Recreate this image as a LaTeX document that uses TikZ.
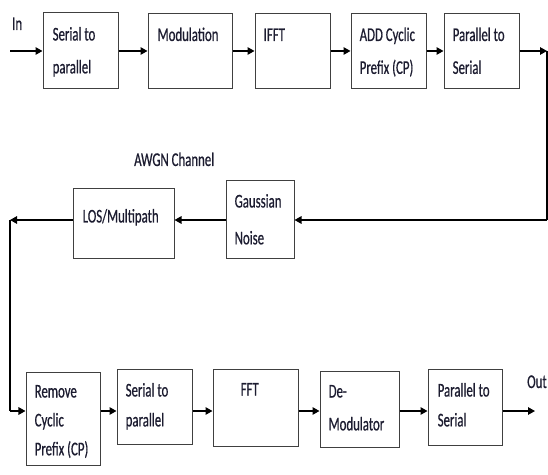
\documentclass[tikz,border=0pt]{standalone}
\usepackage{fontspec}
\setmainfont{Carlito}[FakeStretch=0.66,FakeBold=0.6]
\usetikzlibrary{arrows.meta,calc}
\definecolor{boxgray}{HTML}{404040}
\definecolor{txtcol}{HTML}{1C1C30}
\newcommand{\bxt}[2][33]{\parbox[t]{90bp}{\fontsize{19.5}{#1}\selectfont\raggedright #2}}
\begin{document}
\begin{tikzpicture}[x=1bp,y=-1bp,
  blk/.style={draw=boxgray, line width=1bp, inner sep=0pt, fill=white},
  txt/.style={anchor=base west, inner sep=0pt, text=txtcol, font=\fontsize{19.5}{33}\selectfont},
  arr/.style={-{Triangle[length=7bp,width=7.5bp]}, line width=1.4bp, draw=black},
  ln/.style={line width=1.4bp, draw=black}]
\useasboundingbox (0,0) rectangle (548,475);
% top row
\node[blk, minimum width=75bp, minimum height=76bp] (s2p) at (80.5,51) {};
\node[blk, minimum width=84bp, minimum height=75bp] (mod) at (190,51) {};
\node[blk, minimum width=75bp, minimum height=75bp] (ifft) at (292.5,51) {};
\node[blk, minimum width=75bp, minimum height=75bp] (addcp) at (388.5,51) {};
\node[blk, minimum width=75bp, minimum height=75bp] (p2s) at (481.5,51) {};
\node[txt] (s2pt) at ($(s2p.north west)+(10,28)$) {\bxt{Serial to\\parallel}};
\node[txt] (modt) at ($(mod.north west)+(10,28)$) {\bxt{Modulation}};
\node[txt] (ifftt) at ($(ifft.north west)+(9,28)$) {\bxt{IFFT}};
\node[txt] (addcpt) at ($(addcp.north west)+(9,28)$) {\bxt{ADD Cyclic\\Prefix (CP)}};
\node[txt] (p2st) at ($(p2s.north west)+(9,28)$) {\bxt{Parallel to\\Serial}};
\node[txt] (intxt) at (12,30) {In};
\coordinate (in) at (10,51);
\coordinate (r1) at (547,51);
\coordinate (r2) at (547,220);
\draw[arr] (in) -- (s2p.west);
\draw[arr] (s2p.east) -- (mod.west);
\draw[arr] (mod.east) -- (ifft.west);
\draw[arr] (ifft.east) -- (addcp.west);
\draw[arr] (addcp.east) -- (p2s.west);
\draw[arr] (p2s.east) -- (r1);
% middle
\node[blk, minimum width=68bp, minimum height=77bp] (gauss) at (260,219.5) {};
\node[blk, minimum width=101bp, minimum height=69bp] (los) at (123.5,223.5) {};
\node[txt] (gausst) at ($(gauss.north west)+(9,27)$) {\bxt[37]{Gaussian\\Noise}};
\node[txt] (lost) at ($(los.north west)+(10,34)$) {\bxt{LOS/Multipath}};
\node[txt] (awgn) at (134,166) {AWGN Channel};
\coordinate (l1) at (10,220);
\coordinate (l2) at (10,411);
\draw[ln] (r1) -- (r2);
\draw[arr] (r2) -- (r2 -| gauss.east);
\draw[arr] (gauss.west |- r2) -- (r2 -| los.east);
\draw[arr] (los.west |- r2) -- (l1);
\draw[ln] (l1) -- (l2);
% bottom row
\node[blk, minimum width=74bp, minimum height=93bp] (rem) at (63,418.5) {};
\node[blk, minimum width=75bp, minimum height=75bp] (s2pb) at (154.5,406.5) {};
\node[blk, minimum width=85bp, minimum height=77bp] (fft) at (255.5,407.5) {};
\node[blk, minimum width=79bp, minimum height=76bp] (demod) at (359.5,409) {};
\node[blk, minimum width=74bp, minimum height=76bp] (p2sb) at (465,407) {};
\node[txt] (remt) at ($(rem.north west)+(9,26)$) {\bxt[29]{Remove\\Cyclic\\Prefix (CP)}};
\node[txt] (s2pbt) at ($(s2pb.north west)+(9,28)$) {\bxt[30]{Serial to\\parallel}};
\node[txt] (fftt) at ($(fft.north west)+(28,27)$) {\bxt{FFT}};
\node[txt] (demodt) at ($(demod.north west)+(9,27)$) {\bxt{De-\\Modulator}};
\node[txt] (p2sbt) at ($(p2sb.north west)+(10,28)$) {\bxt[30]{Parallel to\\Serial}};
\node[txt] (outtxt) at (527,388) {Out};
\coordinate (out) at (535,411);
\draw[arr] (l2) -- (l2 -| rem.west);
\draw[arr] (rem.east |- l2) -- (l2 -| s2pb.west);
\draw[arr] (s2pb.east |- l2) -- (l2 -| fft.west);
\draw[arr] (fft.east |- l2) -- (l2 -| demod.west);
\draw[arr] (demod.east |- l2) -- (l2 -| p2sb.west);
\draw[arr] (p2sb.east |- l2) -- (out);
\end{tikzpicture}
\end{document}
